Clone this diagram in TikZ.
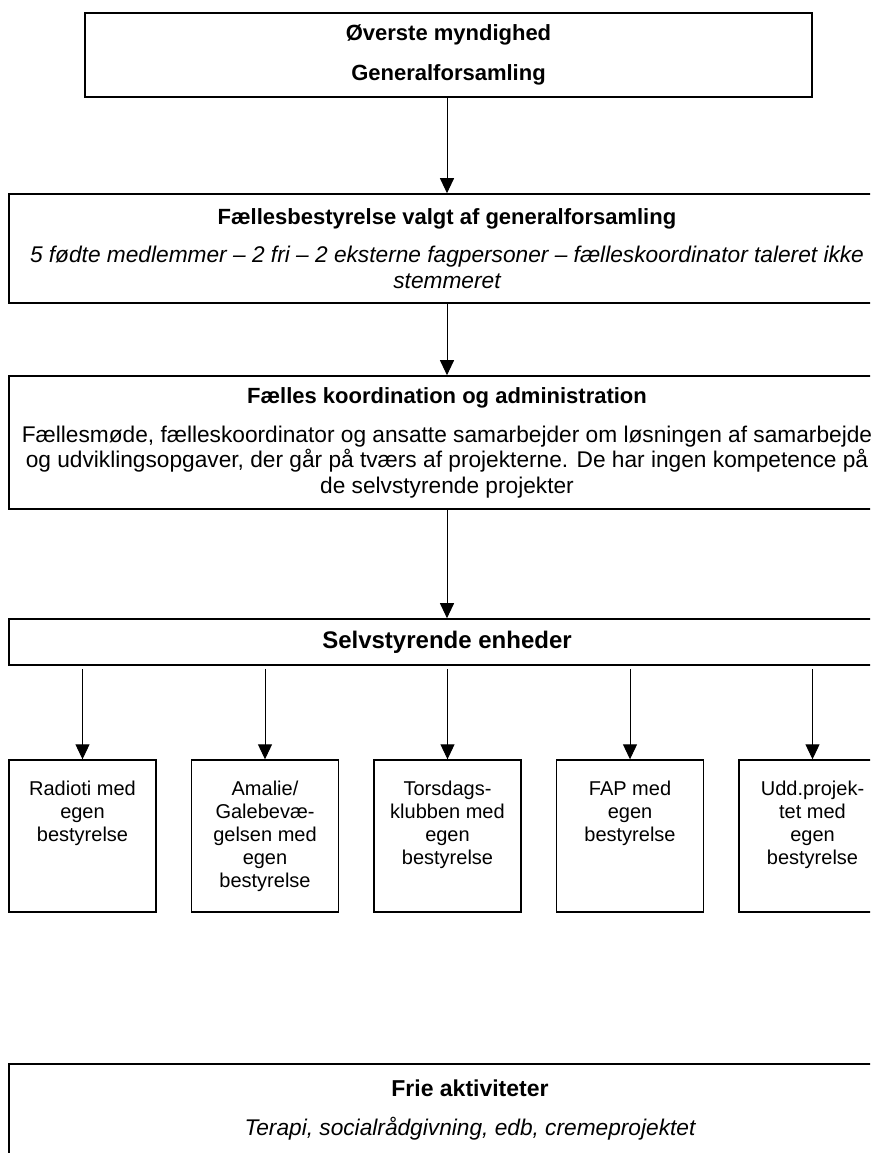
\documentclass[tikz,border=0pt]{standalone}
\usepackage{fontspec}
\setmainfont{Liberation Sans}
\usetikzlibrary{positioning,arrows.meta}

\begin{document}
\begin{tikzpicture}[x=1pt, y=-1pt,
    box/.style={draw, line width=1.6pt, align=center, inner sep=0pt, font=\fontsize{22.7}{25.3}\selectfont},
    title/.style={font=\fontsize{22}{25.3}\selectfont\bfseries},
    unitbox/.style={draw, line width=1.4pt, minimum width=147pt, minimum height=152pt, inner sep=0pt},
    unittext/.style={align=center, inner sep=0pt, font=\fontsize{20}{23}\selectfont},
    arr/.style={-{Triangle[length=15pt,width=14pt]}, line width=1pt}]
    \useasboundingbox (0,0) rectangle (870,1153);
    \clip (0,0) rectangle (870,1153);

    % Top level
    \node[box, minimum width=727pt, minimum height=84pt] (gf) at (448.5,55)
        {\textbf{\fontsize{22}{25.3}\selectfont Øverste myndighed}\\[14pt]
         \textbf{\fontsize{22}{25.3}\selectfont Generalforsamling}};

    % Board
    \node[box, minimum width=876pt, minimum height=109pt] (fb) at (447,248.5)
        {\textbf{\fontsize{22}{25.3}\selectfont Fællesbestyrelse valgt af generalforsamling}\\[13pt]
         \itshape 5 fødte medlemmer – 2 fri – 2 eksterne fagpersoner – fælleskoordinator taleret ikke\\
         \itshape stemmeret};

    % Coordination
    \node[box, minimum width=876pt, minimum height=133pt] (ka) at (447,442.5)
        {\textbf{\fontsize{22}{25.3}\selectfont Fælles koordination og administration}\\[14pt]
         Fællesmøde, fælleskoordinator og ansatte samarbejder om løsningen af samarbejde\\
         og udviklingsopgaver, der går på tværs af projekterne. De har ingen kompetence på\\
         de selvstyrende projekter};

    % Units
    \node[box, minimum width=876pt, minimum height=46pt] (se) at (447,642)
        {\textbf{\fontsize{24}{26}\selectfont Selvstyrende enheder}};

    \draw[arr] (gf.south -| fb.north) -- (fb.north);
    \draw[arr] (fb.south) -- (ka.north);
    \draw[arr] (ka.south) -- (se.north);

    \foreach \i/\txt in {1/{Radioti med\\egen\\bestyrelse},
                         2/{Amalie/\\Galebevæ-\\gelsen med\\egen\\bestyrelse},
                         3/{Torsdags-\\klubben med\\egen\\bestyrelse},
                         4/{FAP med\\egen\\bestyrelse},
                         5/{Udd.projek-\\tet med\\egen\\bestyrelse}} {
        \node[unitbox] (u\i) at ({82.5+182.5*(\i-1)},836) {};
        \node[unittext, below=21pt of u\i.north] (t\i) {\txt};
        \draw[arr, shorten <=3pt] (se.south -| u\i.north) -- (u\i.north);
    }

    % Free activities
    \node[box, minimum width=922pt, minimum height=92pt] (fa) at (470,1110)
        {\textbf{\fontsize{23}{25.3}\selectfont Frie aktiviteter}\\[14pt]
         \itshape Terapi, socialrådgivning, edb, cremeprojektet};
\end{tikzpicture}
\end{document}
